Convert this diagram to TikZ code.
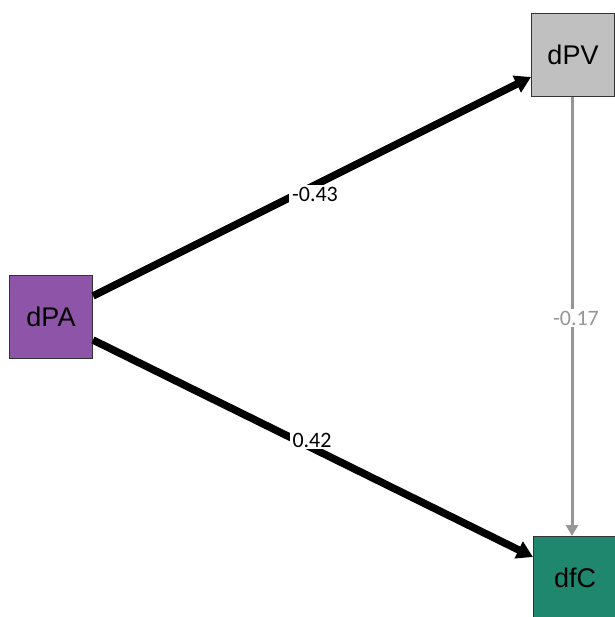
\documentclass[tikz,border=0pt]{standalone}
\usepackage{fontspec}
\setmainfont{Liberation Sans}
\newfontfamily\labfont{Carlito}
\usetikzlibrary{arrows.meta}
\definecolor{cpa}{RGB}{142,84,168}
\definecolor{cpv}{RGB}{192,192,192}
\definecolor{cfc}{RGB}{30,135,110}
\definecolor{cgr}{RGB}{150,150,150}
\begin{document}
\begin{tikzpicture}[x=1pt,y=-1pt,
  box/.style={draw=black!80, line width=1pt, minimum width=83pt, minimum height=83pt, inner sep=0pt, font=\fontsize{27}{30}\selectfont},
  edgelab/.style={fill=white, inner xsep=3pt, inner ysep=2pt, font=\labfont\fontsize{22}{25}\selectfont},
  strong/.style={line width=7.5pt, -{Triangle[length=16pt,width=18pt]}},
  weak/.style={line width=3pt, color=cgr, -{Triangle[length=11pt,width=12pt]}}]
\useasboundingbox (0,0) rectangle (614,617);
\node[box, fill=cpa] (pa) at (51,316.5) {dPA};
\node[box, fill=cpv] (pv) at (573,55) {dPV};
\node[box, fill=cfc] (fc) at (575,578) {dfC};
\draw[strong] (pa.east|-0,296) coordinate (a1) -- (pv.west|-0,77) coordinate (b1);
\draw[strong] (pa.east|-0,340) coordinate (a2) -- (fc.west|-0,557) coordinate (b2);
\draw[weak] (pv.south-|572,0) -- (fc.north-|572,0);
\node[edgelab] (l1) at (315,194) {-0.43};
\node[edgelab] (l2) at (312,440) {0.42};
\node[edgelab, text=cgr] (l3) at (576,318) {-0.17};
\end{tikzpicture}
\end{document}
